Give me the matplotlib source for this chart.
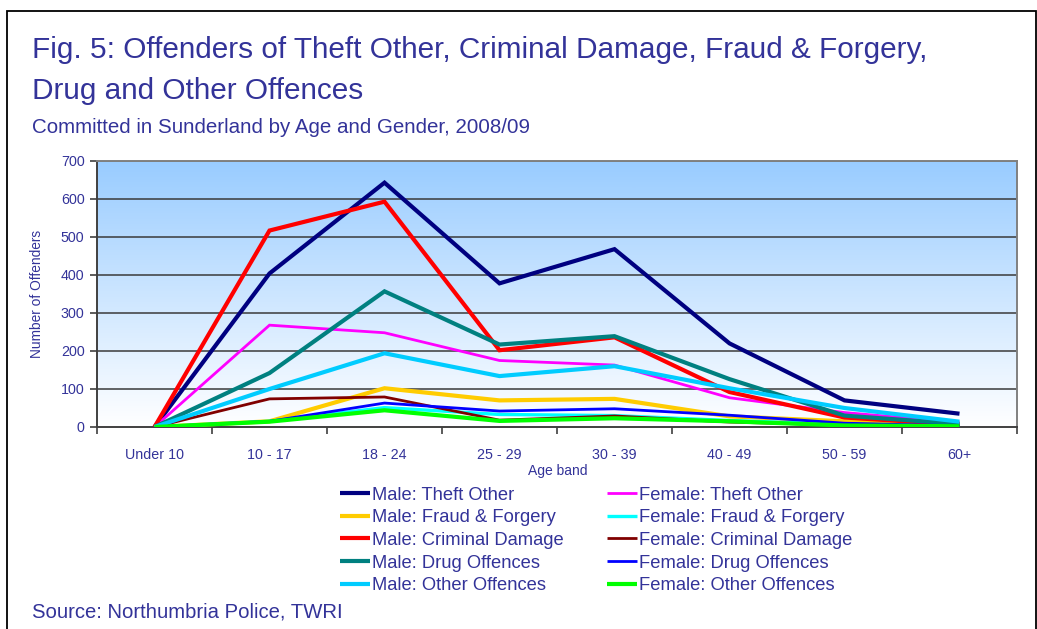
import numpy as np
import matplotlib
matplotlib.use("Agg")
import matplotlib.pyplot as plt
from matplotlib.patches import Rectangle

plt.rcParams['font.family'] = ['Liberation Sans', 'DejaVu Sans']

age_bands = ['Under 10', '10 - 17', '18 - 24', '25 - 29', '30 - 39', '40 - 49', '50 - 59', '60+']

male_theft = [0, 404, 643, 378, 468, 220, 70, 35]
female_theft = [0, 268, 248, 175, 163, 77, 38, 12]
male_fraud = [0, 15, 102, 70, 74, 28, 15, 3]
female_fraud = [0, 15, 51, 33, 30, 17, 7, 2]
male_cd = [0, 517, 593, 202, 236, 92, 25, 6]
female_cd = [0, 74, 79, 18, 29, 13, 5, 2]
male_drug = [0, 142, 357, 217, 239, 126, 30, 8]
female_drug = [0, 15, 63, 42, 48, 31, 10, 3]
male_other = [0, 100, 194, 134, 160, 102, 50, 14]
female_other = [0, 14, 44, 16, 23, 15, 4, 2]

series = [
    ('Male: Theft Other', male_theft, '#000080', 3.0),
    ('Female: Theft Other', female_theft, '#FF00FF', 2.0),
    ('Male: Fraud & Forgery', male_fraud, '#FFCC00', 3.0),
    ('Female: Fraud & Forgery', female_fraud, '#00FFFF', 2.4),
    ('Male: Criminal Damage', male_cd, '#FF0000', 3.0),
    ('Female: Criminal Damage', female_cd, '#800000', 2.0),
    ('Male: Drug Offences', male_drug, '#008080', 3.0),
    ('Female: Drug Offences', female_drug, '#0000FF', 2.0),
    ('Male: Other Offences', male_other, '#00CCFF', 3.0),
    ('Female: Other Offences', female_other, '#00FF00', 3.0),
]

txt = '#333399'
W, H = 1037, 629
fig = plt.figure(figsize=(W / 100, H / 100), dpi=100)
fig.patch.set_facecolor('white')

ax = fig.add_axes([97 / W, 1 - 427 / H, (1017 - 97) / W, (427 - 161) / H])
ax.set_xlim(-0.5, len(age_bands) - 0.5)
ax.set_ylim(0, 700)

# gradient background
grad = np.linspace(0, 1, 256).reshape(-1, 1)
top = np.array([0x99, 0xCC, 0xFF]) / 255.0
bot = np.array([1.0, 1.0, 1.0])
img = bot[None, None, :] * (1 - grad[..., None]) + top[None, None, :] * grad[..., None]
ax.imshow(img, extent=[-0.5, len(age_bands) - 0.5, 0, 700], origin='lower',
          aspect='auto', zorder=0, interpolation='bicubic')

for yv in range(100, 800, 100):
    ax.axhline(yv, color='#3a3a3a', lw=1.1, zorder=1)

x = np.arange(len(age_bands))
handles = {}
for name, vals, col, lw in series:
    ln, = ax.plot(x, vals, color=col, lw=lw, label=name, zorder=3,
                  solid_joinstyle='miter', solid_capstyle='butt')
    handles[name] = ln

ax.set_yticks(range(0, 800, 100))
ax.tick_params(axis='y', direction='out', length=5, width=1.2, color='#404040',
               labelsize=10.3, labelcolor=txt, pad=4)
ax.set_xticks(x)
ax.set_xticklabels(age_bands)
ax.tick_params(axis='x', which='major', length=0, labelsize=10.3, labelcolor=txt, pad=15)
ax.set_xticks(np.arange(-0.5, len(age_bands), 1), minor=True)
ax.tick_params(axis='x', which='minor', direction='out', length=5, width=1.2, color='#404040')

for s in ['left', 'bottom']:
    ax.spines[s].set_color('#404040')
    ax.spines[s].set_linewidth(1.4)
for s in ['top', 'right']:
    ax.spines[s].set_color('#808080')
    ax.spines[s].set_linewidth(1.4)

ax.set_ylabel('Number of Offenders', color=txt, fontsize=9.9, labelpad=12)
ax.set_xlabel('Age band', color=txt, fontsize=10, labelpad=0)
ax.xaxis.set_label_coords((558 - 97) / (1017 - 97), -(464 - 427) / (427 - 161))

order = [s[0] for s in series if s[0].startswith('Male')] + [s[0] for s in series if s[0].startswith('Female')]
leg = fig.legend([handles[n] for n in order], order, loc='upper left',
                 bbox_to_anchor=(340 / W, 1 - 486.5 / H), ncol=2, frameon=False,
                 fontsize=13.2, handlelength=1.64, handletextpad=0.12,
                 labelspacing=0.31, columnspacing=2.35, borderpad=0, borderaxespad=0)
for t in leg.get_texts():
    t.set_color(txt)

fig.text(32 / W, 1 - 58 / H, 'Fig. 5: Offenders of Theft Other, Criminal Damage, Fraud & Forgery,',
         color=txt, fontsize=21.4, va='baseline', ha='left')
fig.text(32 / W, 1 - 99 / H, 'Drug and Other Offences', color=txt, fontsize=21.4,
         va='baseline', ha='left')
fig.text(32 / W, 1 - 133 / H, 'Committed in Sunderland by Age and Gender, 2008/09', color=txt,
         fontsize=14.8, va='baseline', ha='left')
fig.text(32 / W, 1 - 617 / H, 'Source: Northumbria Police, TWRI', color=txt, fontsize=14.6,
         va='baseline', ha='left')

fig.patches.append(Rectangle((7 / W, -0.05), (1036 - 7) / W, (1 - 11 / H) + 0.05,
                             transform=fig.transFigure, fill=False, edgecolor='black', lw=1.3))

fig.savefig('out.png', dpi=100)
